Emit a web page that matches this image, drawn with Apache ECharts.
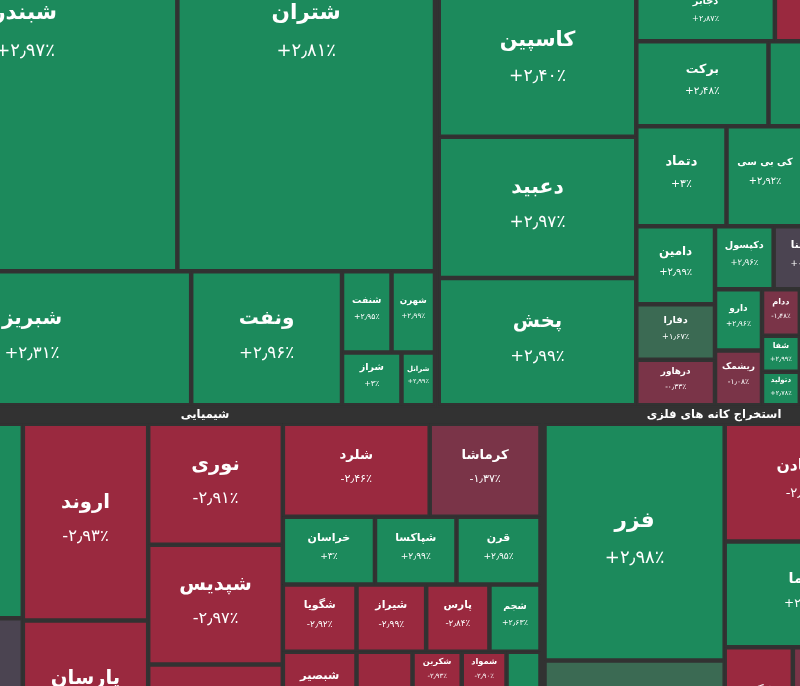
<!DOCTYPE html>
<html>
<head>
<meta charset="utf-8">
<title>نقشه بازار</title>
<script src="https://cdn.jsdelivr.net/npm/echarts@6/dist/echarts.min.js"></script>
<style>
  html, body { margin: 0; padding: 0; background: #323232; overflow: hidden; }
  #chart { width: 800px; height: 686px; }
</style>
</head>
<body>
<div id="chart"></div>
<script>
// values are market weights (cell areas), changes are daily % changes

// فرآورده های نفتی
const petroNames = ['شبندر', 'شتران', 'شبریز', 'ونفت', 'شنفت', 'شهرن', 'شراز', 'شرانل'];
const petroValues = [14423, 12200, 4267, 2021, 402, 353, 314, 177];
const petroChanges = [2.97, 2.81, 2.31, 2.96, 2.95, 2.99, 3, 2.99];
const petroTree = [[0, 1], [2, 3, [[4, 5], [6, 7]]]];

// مواد و محصولات دارویی
const pharmaNames = ['کاسپین', 'دعبید', 'پخش', 'دجابر', 'دزهراوی', 'برکت', 'دالبر', 'دتماد', 'کی بی سی', 'دسبحا',
  'دامین', 'دفارا', 'درهاور', 'دکپسول', 'دسینا', 'دلقما', 'دارو', 'ریشمک', 'ددام', 'شفا', 'دتولید', 'دکوثر'];
const pharmaValues = [2981, 2792, 2514, 768, 638, 1124, 1033, 902, 770, 865,
  614, 438, 358, 370, 393, 341, 288, 257, 176, 136, 127, 1046];
const pharmaChanges = [2.4, 2.97, 2.99, 2.87, -2.9, 2.48, 2.6, 3, 2.92, 2.5,
  2.99, 1.67, -0.33, 2.96, 0.2, 2.1, 2.96, -1.08, -1.48, 2.99, 2.78, 2.4];
const pharmaTree = [[0, 1, 2], [[3, 4], [5, 6], [7, 8, 9], [[10, 11, 12], [[13, 14, 15], [[16, 17], [18, 19, 20], 21]]]]];

// شیمیایی
const chemNames = ['فارس', 'جم', 'اروند', 'پارسان', 'نوری', 'شپدیس', 'زاگرس', 'شلرد', 'کرماشا', 'خراسان', 'شپاکسا', 'قرن',
  'شگویا', 'شبصیر', 'شخارک', 'شیراز', 'پارس', 'شجم', 'شکبیر', 'شکربن', 'شمواد', 'شاراک', 'بوعلی'];
const chemValues = [2984, 2429, 2466, 1959, 1629, 1613, 1512, 1364, 1029, 625, 553, 570,
  495, 549, 372, 468, 425, 343, 701, 191, 174, 811, 425];
const chemChanges = [2.9, 0.1, -2.93, -2.9, -2.91, -2.97, -2.9, -2.46, -1.37, 3, 2.99, 2.95,
  -2.92, -2.9, -2.5, -2.99, -2.84, 2.63, -2.9, -2.93, -2.9, -2.5, 2.9];
const chemTree = [[0, 1], [2, 3], [4, 5, 6], [[7, 8], [9, 10, 11], [[12, 13, 14], [[15, 16, 17], [18, [[19, 20], 21], 22]]]]];

// استخراج کانه های فلزی
const metalNames = ['فزر', 'کچاد', 'ومعادن', 'کدما', 'کگل', 'کنور'];
const metalValues = [4266, 1793, 1870, 1678, 769, 1023];
const metalChanges = [2.98, 1.3, -2.9, 2.8, -2.9, -1.2];
const metalTree = [[0, 1], [2, 3, [4, 5]]];

const BG = '#323232';
const FONT = '"DejaVu Sans", "Noto Sans", sans-serif';

// the map is a crop of a bigger market map, so sector boxes run past the edges
const sectors = [
  { title: 'فرآورده های نفتی', box: [-129.25, -222.25, 566.25, 629.5], header: 20,
    names: petroNames, values: petroValues, changes: petroChanges, tree: petroTree },
  { title: 'مواد و محصولات دارویی', box: [436.75, -34.25, 455.25, 441.5], header: 20,
    names: pharmaNames, values: pharmaValues, changes: pharmaChanges, tree: pharmaTree },
  { title: 'شیمیایی', box: [-132.5, 407.25, 675, 371.5], header: 16.5,
    names: chemNames, values: chemValues, changes: chemChanges, tree: chemTree },
  { title: 'استخراج کانه های فلزی', box: [542.5, 407.25, 343, 354.75], header: 16.5,
    names: metalNames, values: metalValues, changes: metalChanges, tree: metalTree }
];

function changeColor(p) {
  if (p >= 2) return '#1c8a5c';
  if (p >= 0.5) return '#3b6a53';
  if (p > -0.3) return '#4b4451';
  if (p > -2) return '#7a3448';
  return '#9a293f';
}

const faDigits = '۰۱۲۳۴۵۶۷۸۹';
function faPct(p) {
  let s = Math.abs(p).toFixed(2).replace(/\.00$/, '');
  s = s.replace(/\d/g, d => faDigits[d]).replace('.', '٫');
  return (p < 0 ? '-' : '+') + s + '٪';
}

// font size from the laid-out cell, text block centred a little above the middle
function leafLabel(w, h, name) {
  const cw = w - 4.5, ch = h - 4.5;
  const m = Math.min(cw, ch);
  const base = m >= 115 ? Math.min(30, 20 + 0.06 * m) : 7 + 0.13 * m;
  const fn = Math.max(7, Math.min(base * 0.72, 0.7 * cw / (0.65 * name.length)));
  const fp = Math.max(6, base * 0.6);
  let ln = fn * 1.9, lp = fp * 1.9;
  const k = Math.min(1, (ch - 2) / (ln + lp));
  ln *= k; lp *= k;
  const pt = Math.max(0, (ch - ln - lp) / 2 - 4);
  return {
    padding: [pt, 0, 0, 0],
    rich: {
      n: { fontSize: fn, lineHeight: ln, fontFamily: FONT, fontWeight: 'bold', color: '#fff' },
      p: { fontSize: fp, lineHeight: lp, fontFamily: FONT, color: '#fff' }
    }
  };
}

function buildNodes(tree, sec, si, sizes) {
  return tree.map(item => {
    if (Array.isArray(item)) {
      return {
        name: '',
        children: buildNodes(item, sec, si, sizes),
        itemStyle: { borderWidth: 0, gapWidth: 0, borderColor: BG },
        upperLabel: { show: false }
      };
    }
    const name = sec.names[item];
    const node = {
      name: name,
      value: sec.values[item],
      change: sec.changes[item],
      itemStyle: { color: changeColor(sec.changes[item]), borderWidth: 2.25, borderColor: BG, gapWidth: 0 }
    };
    const sz = sizes && sizes[si + ':' + name];
    if (sz) node.label = leafLabel(sz[0], sz[1], name);
    else node.label = { show: !!sizes };
    return node;
  });
}

function makeOption(sizes) {
  return {
    backgroundColor: BG,
    animation: false,
    series: sectors.map((sec, si) => ({
      type: 'treemap',
      left: sec.box[0], top: sec.box[1], width: sec.box[2], height: sec.box[3],
      sort: false,
      squareRatio: 1e-4,
      roam: false,
      nodeClick: false,
      silent: true,
      breadcrumb: { show: false },
      itemStyle: { borderWidth: 0, gapWidth: 0, borderColor: BG },
      upperLabel: { show: false },
      label: {
        show: true,
        position: 'inside',
        align: 'center',
        verticalAlign: 'middle',
        padding: 0,
        overflow: 'none',
        color: '#fff',
        fontFamily: FONT,
        formatter: p => '{n|' + p.name + '}\n{p|' + faPct(p.data.change) + '}',
        rich: {
          n: { fontSize: 14, fontFamily: FONT, fontWeight: 'bold', color: '#fff' },
          p: { fontSize: 10, fontFamily: FONT, color: '#fff' }
        }
      },
      data: [{
        name: sec.title,
        children: buildNodes(sec.tree, sec, si, sizes),
        itemStyle: { borderWidth: 2, borderColor: BG, gapWidth: 0 },
        upperLabel: {
          show: true, height: sec.header, position: 'inside', align: 'center', verticalAlign: 'middle',
          formatter: '{b}', padding: 0, color: '#fff', fontSize: 11.5, fontWeight: 'bold',
          fontFamily: FONT, lineHeight: sec.header - 3
        }
      }]
    }))
  };
}

const chart = echarts.init(document.getElementById('chart'));
chart.setOption(makeOption(null));

// second pass: size each label from the cell the library laid out
const sizes = {};
try {
  chart.getModel().eachSeries(function (s) {
    s.getData().tree.root.eachNode(function (node) {
      if (node.children && node.children.length) return;
      const lay = node.getLayout();
      if (lay && lay.width) sizes[s.seriesIndex + ':' + node.name] = [lay.width, lay.height];
    });
  });
} catch (e) {
  sectors.forEach((sec, si) => sec.names.forEach((n, i) => {
    const a = Math.sqrt(sec.values[i] * 10);
    sizes[si + ':' + n] = [a, a];
  }));
}
chart.setOption(makeOption(sizes), true);
</script>
</body>
</html>
